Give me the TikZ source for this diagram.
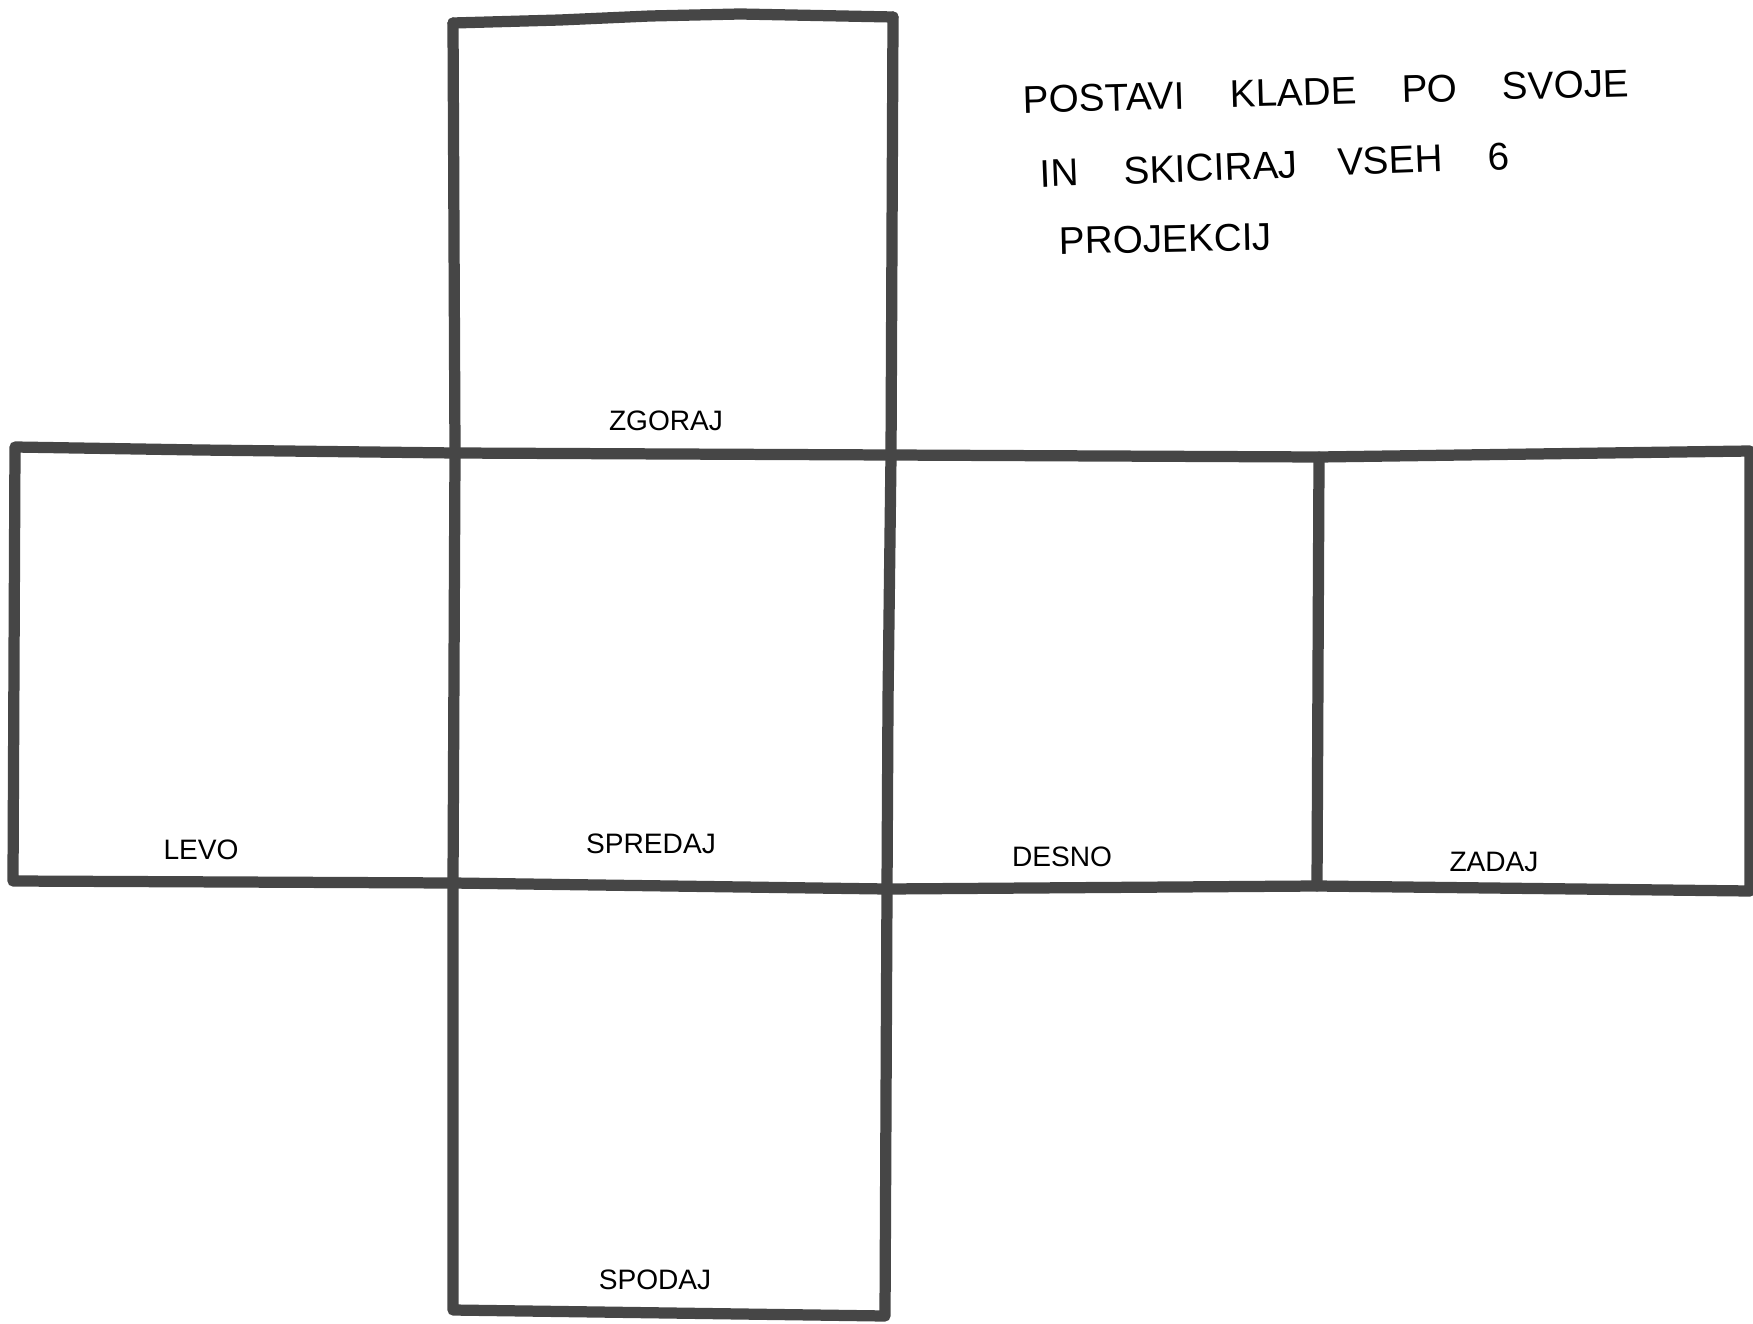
\documentclass[tikz,border=0pt]{standalone}
\usepackage{fontspec}
\setmainfont{Liberation Sans}
\usetikzlibrary{positioning}
\definecolor{marker}{HTML}{464646}

\begin{document}
\begin{tikzpicture}[x=0.02cm, y=-0.02cm,
    net/.style={draw=marker, line width=6.4pt, line join=round, line cap=round},
    facelabel/.style={font=\fontsize{16}{18}\selectfont, inner sep=0pt},
    note/.style={font=\fontsize{22}{26}\selectfont, anchor=west, inner sep=0pt}]
  \useasboundingbox (0,0) rectangle (1753,1324);
  % corners of the net
  \coordinate (tl) at (453,23);   \coordinate (tr) at (893,17);
  \coordinate (ml) at (15,447);   \coordinate (mr) at (1750,451);
  \coordinate (a1) at (455,453);  \coordinate (a2) at (891,455);  \coordinate (a3) at (1319,457);
  \coordinate (bl) at (13,881);   \coordinate (br) at (1750,891);
  \coordinate (b1) at (453,883);  \coordinate (b2) at (887,889);  \coordinate (b3) at (1317,886);
  \coordinate (sl) at (453,1310); \coordinate (sr) at (885,1316);
  % outline and folds
  \draw[net] (tl) -- (560,20) -- (650,16) -- (740,14) -- (tr);
  \draw[net] (tl) -- (a1) -- (b1) -- (sl) -- (sr) -- (b2) -- (888,700) -- (a2) -- (tr);
  \draw[net] (ml) -- (200,450) -- (a1) -- (a2) -- (a3) -- (mr) -- (br) -- (b3) -- (b2) -- (b1) -- (bl) -- cycle;
  \draw[net] (a3) -- (b3);
  % face names
  \foreach \nm/\xx/\yy in {zgoraj/666/421, levo/201/850, spredaj/651/844,
      desno/1062/857, zadaj/1494/862, spodaj/655/1280} {
    \node[facelabel] (\nm) at (\xx,\yy) {\MakeUppercase{\nm}};
  }
  % task text
  \node[note, rotate=1.6] (note1) at (1023,100)
    {POSTAVI\hspace{0.9cm}KLADE\hspace{0.9cm}PO\hspace{0.9cm}SVOJE};
  \node[note, rotate=2.2] (note2) at (1040,174)
    {IN\hspace{0.9cm}SKICIRAJ\hspace{0.8cm}VSEH\hspace{0.9cm}6};
  \node[note, rotate=1.2] (note3) at (1059,241) {PROJEKCIJ};
\end{tikzpicture}
\end{document}
